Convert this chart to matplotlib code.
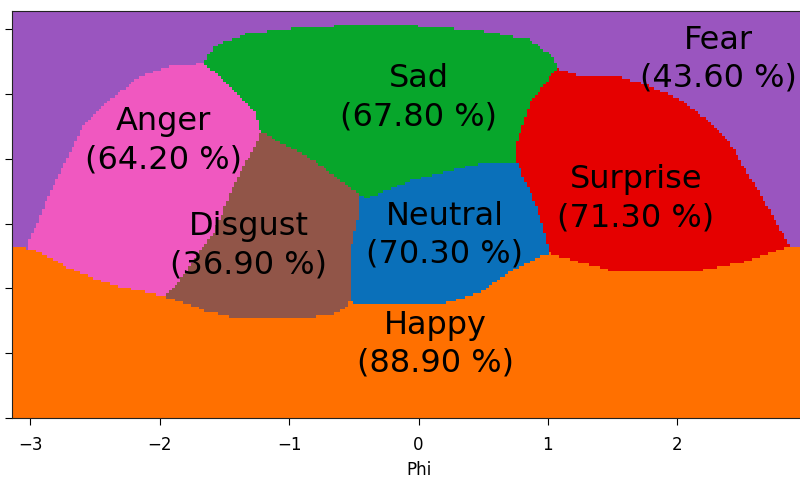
import numpy as np
import matplotlib
matplotlib.use("Agg")
import matplotlib.pyplot as plt
from matplotlib.path import Path
from matplotlib.colors import ListedColormap

# ---- data: emotion regions on the (Phi, Theta) plane ----
emotions = ["Fear", "Anger", "Disgust", "Sad", "Neutral", "Surprise", "Happy"]
accuracy = [43.60, 64.20, 36.90, 67.80, 70.30, 71.30, 88.90]
colors = ["#9a55bf", "#f058c0", "#915548", "#07a62b", "#0a70ba", "#e50000", "#ff7000"]

# region outlines (phi, theta); Fear is the background
anger_phi = [-3.02, -2.97, -2.84, -2.71, -2.59, -2.38, -2.15, -1.94, -1.66, -1.45, -1.27, -1.22,
             -1.24, -1.43, -1.58, -1.68, -1.84, -1.95, -1.95, -3.05]
anger_theta = [1.34, 1.45, 1.76, 2.02, 2.25, 2.46, 2.64, 2.71, 2.74, 2.56, 2.38, 2.21,
               2.15, 1.79, 1.43, 1.30, 1.07, 0.94, 0.68, 0.68]

disgust_phi = [-1.22, -0.81, -0.45, -0.47, -0.53, -0.53, -0.53, -1.95, -1.95, -1.84, -1.68,
               -1.58, -1.43, -1.24]
disgust_theta = [2.21, 1.99, 1.72, 1.53, 1.28, 0.90, 0.68, 0.68, 0.94, 1.07, 1.30,
                 1.43, 1.79, 2.15]

sad_phi = [-1.66, -1.58, -1.32, -0.93, -0.58, -0.04, 0.48, 0.86, 1.04, 1.07, 0.86, 0.76, 0.76,
           0.50, 0.17, -0.04, -0.39, -0.45, -0.81, -1.22, -1.27, -1.45]
sad_theta = [2.74, 2.87, 2.97, 3.01, 3.03, 3.03, 2.99, 2.92, 2.79, 2.70, 2.43, 2.13, 1.97,
             1.97, 1.89, 1.84, 1.70, 1.72, 1.99, 2.21, 2.38, 2.56]

neutral_phi = [-0.45, -0.39, -0.04, 0.17, 0.50, 0.76, 0.86, 0.94, 1.00, 1.01, 1.01, -0.53,
               -0.53, -0.53, -0.47]
neutral_theta = [1.72, 1.70, 1.84, 1.89, 1.97, 1.97, 1.76, 1.55, 1.32, 1.27, 0.68, 0.68,
                 0.90, 1.28, 1.53]

surprise_phi = [1.07, 1.20, 1.54, 1.79, 2.02, 2.23, 2.39, 2.54, 2.64, 2.74, 2.87, 2.87, 1.01,
                1.01, 1.00, 0.94, 0.86, 0.76, 0.76, 0.86]
surprise_theta = [2.70, 2.65, 2.64, 2.56, 2.46, 2.30, 2.15, 1.89, 1.74, 1.55, 1.32, 0.68, 0.68,
                  1.27, 1.32, 1.55, 1.76, 1.97, 2.13, 2.43]

happy_phi = [-3.20, -3.13, -2.97, -2.71, -2.38, -1.97, -1.84, -1.66, -1.40, -0.91, -0.63, -0.55,
             -0.53, -0.45, 0.15, 0.48, 0.69, 0.86, 1.01, 1.25, 1.48, 2.20, 2.49, 2.87, 3.20,
             3.20, -3.20]
happy_theta = [1.33, 1.32, 1.30, 1.16, 1.03, 0.94, 0.90, 0.83, 0.77, 0.77, 0.81, 0.86,
               0.90, 0.87, 0.87, 0.97, 1.12, 1.21, 1.27, 1.20, 1.14, 1.14, 1.20, 1.32, 1.34,
               -0.10, -0.10]

# label anchor points (phi, theta)
label_phi = [2.32, -1.97, -1.31, 0.00, 0.20, 1.68, 0.13]
label_theta = [2.77, 2.14, 1.33, 2.47, 1.41, 1.69, 0.57]

x_ticks = [-3, -2, -1, 0, 1, 2]
x_ticklabels = ["\u22123", "\u22122", "\u22121", "0", "1", "2"]
y_ticks = [0.0, 0.5, 1.0, 1.5, 2.0, 2.5, 3.0]

# ---- rasterise the regions on a grid (painting order = list order) ----
regions = [
    (1, anger_phi, anger_theta),
    (2, disgust_phi, disgust_theta),
    (3, sad_phi, sad_theta),
    (4, neutral_phi, neutral_theta),
    (5, surprise_phi, surprise_theta),
    (6, happy_phi, happy_theta),
]
nx, ny = 300, 150
xe = np.linspace(-np.pi, np.pi, nx + 1)
ye = np.linspace(0, np.pi, ny + 1)
xc = 0.5 * (xe[:-1] + xe[1:])
yc = 0.5 * (ye[:-1] + ye[1:])
XX, YY = np.meshgrid(xc, yc)
pts = np.column_stack([XX.ravel(), YY.ravel()])
cls = np.zeros(pts.shape[0], dtype=int)
for idx, px, py in regions:
    inside = Path(np.column_stack([px, py])).contains_points(pts)
    cls[inside] = idx
cls = cls.reshape(ny, nx)

fig = plt.figure(figsize=(8, 4.8), dpi=100)
ax = fig.add_axes([12 / 800, 62 / 480, 813 / 800, 407 / 480])
ax.pcolormesh(xe, ye, cls, cmap=ListedColormap(colors), vmin=-0.5, vmax=6.5,
              shading="flat", antialiased=False)
ax.set_xlim(-np.pi, np.pi)
ax.set_ylim(0, np.pi)

for name, acc, lx, ly in zip(emotions, accuracy, label_phi, label_theta):
    ax.text(lx, ly, f"{name}\n({acc:.2f} %)", ha="center", va="center",
            fontsize=23, color="black", multialignment="center", linespacing=1.3)

ax.set_xticks(x_ticks)
ax.set_xticklabels(x_ticklabels)
ax.set_yticks(y_ticks)
ax.tick_params(axis="x", length=5, pad=8, labelsize=12)
ax.tick_params(axis="y", length=5, labelleft=False)
ax.set_xlabel("Phi", fontsize=12, labelpad=5)
for s in ax.spines.values():
    s.set_color("#222222")

fig.savefig("out.png", dpi=100)
